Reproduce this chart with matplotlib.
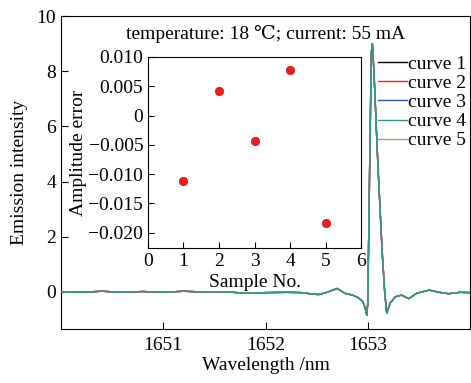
import matplotlib
matplotlib.use("Agg")
import matplotlib.pyplot as plt

plt.rcParams['font.family'] = ['Liberation Serif', 'DejaVu Serif']

# spectrum (all five curves sit on top of each other)
wavelength = [1650.0, 1650.2, 1650.4, 1650.6, 1650.8, 1651.0, 1651.2, 1651.4,
              1651.6, 1651.8, 1652.0, 1652.2, 1652.35, 1652.45, 1652.52, 1652.6,
              1652.7, 1652.78, 1652.85, 1652.9, 1652.95, 1652.975, 1652.99,
              1653.0, 1653.02, 1653.035, 1653.045, 1653.06, 1653.1, 1653.14,
              1653.165, 1653.185, 1653.22, 1653.27, 1653.33, 1653.4, 1653.48,
              1653.6, 1653.7, 1653.79, 1653.9, 1654.0]
intensity = [0.0, -0.02, 0.02, -0.02, 0.01, -0.02, 0.02, -0.01,
             0.0, -0.05, -0.03, -0.02, -0.03, -0.08, -0.1, -0.02,
             0.12, -0.06, -0.12, -0.2, -0.35, -0.6, -0.85,
             -0.4, 5.0, 8.7, 9.0, 8.0, 4.5, 1.5,
             0.0, -0.77, -0.4, -0.18, -0.12, -0.25, -0.05,
             0.06, -0.02, -0.07, -0.02, -0.03]

curve_names = ['curve 1', 'curve 2', 'curve 3', 'curve 4', 'curve 5']
curve_colors = ['black', '#ff2020', '#3050b0', '#2a9a8a', '#b0a070']

# inset: amplitude error per sample
sample_no = [1, 2, 3, 4, 5]
amp_error = [-0.0111, 0.0042, -0.0044, 0.0077, -0.0183]

fig = plt.figure(figsize=(4.71, 3.83), dpi=100)
ax = fig.add_axes([0.1295, 0.141, 0.8685, 0.817])

order = [0, 1, 2, 4, 3]
for i in order:
    ax.plot(wavelength, intensity, color=curve_colors[i], lw=1.0,
            label=curve_names[i], zorder=2 + (i == 3))

ax.set_xlim(1650.0, 1654.0)
ax.set_ylim(-1.35, 10)
ax.set_xticks([1651, 1652, 1653])
ax.set_yticks([0, 2, 4, 6, 8, 10])
ax.tick_params(direction='in', length=5, labelsize=14, top=False, right=False)
ax.tick_params(axis='x', pad=6)
ax.set_xlabel('Wavelength /nm', fontsize=14, labelpad=2)
ax.set_ylabel('Emission intensity', fontsize=14, labelpad=6)
ax.text(0.5, 0.972, 'temperature: 18 ℃; current: 55 mA', transform=ax.transAxes,
        ha='center', va='top', fontsize=14)

handles, labels = ax.get_legend_handles_labels()
hl = dict(zip(labels, handles))
ax.legend([hl[n] for n in curve_names], curve_names, loc='upper right',
          bbox_to_anchor=(0.99, 0.875), frameon=False, fontsize=14,
          handlelength=1.5, handletextpad=0.05, labelspacing=0.08,
          borderaxespad=0.0, borderpad=0.0)

ins = fig.add_axes([0.3142, 0.3525, 0.4523, 0.4987])
ins.plot(sample_no, amp_error, 'o', color='#ee1c1c', markersize=6,
         markeredgecolor='#cc1010', markeredgewidth=0.5)
ins.set_xlim(0, 6)
ins.set_ylim(-0.0226, 0.010)
ins.set_xticks([0, 1, 2, 3, 4, 5, 6])
ins.set_yticks([0.010, 0.005, 0, -0.005, -0.010, -0.015, -0.020])
ins.set_yticklabels(['0.010', '0.005', '0', '−0.005', '−0.010', '−0.015', '−0.020'])
ins.tick_params(direction='in', length=4, labelsize=14, top=False, right=False)
ins.set_xlabel('Sample No.', fontsize=14, labelpad=3)
ins.set_ylabel('Amplitude error', fontsize=14, labelpad=1)

fig.savefig('out.png', dpi=100)
